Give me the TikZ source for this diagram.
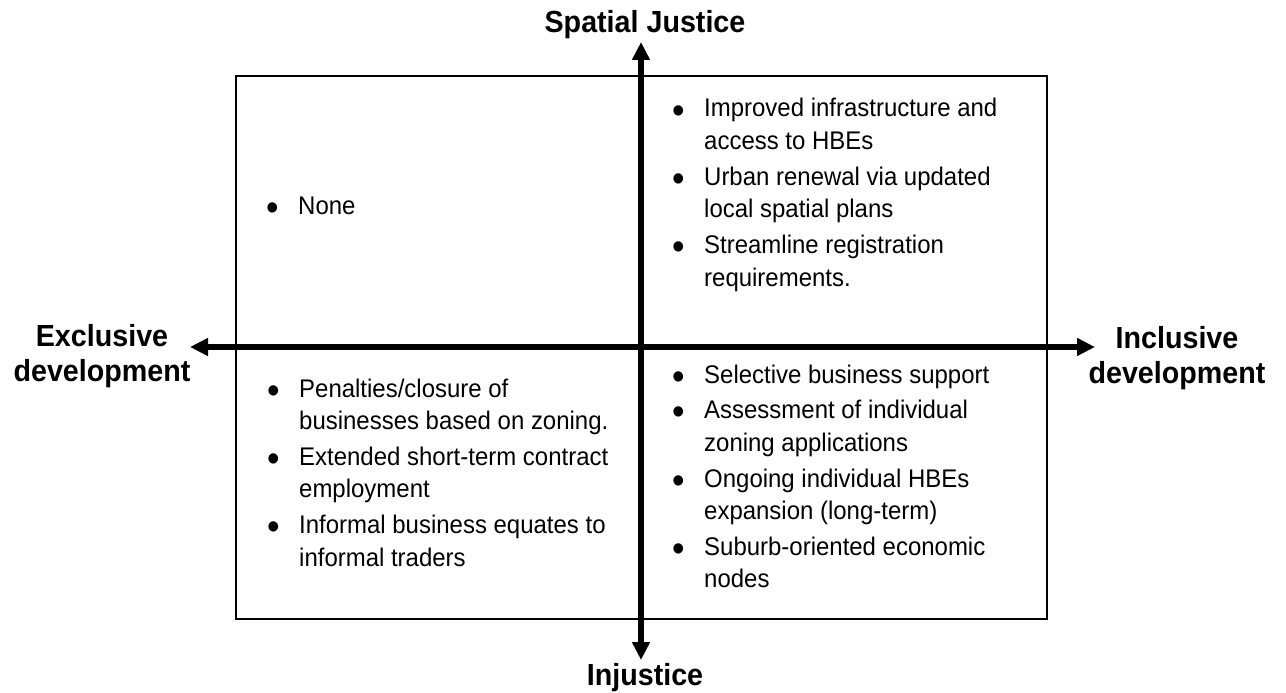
\documentclass[tikz,border=0pt]{standalone}
\usepackage{fontspec}
\setmainfont{Liberation Sans}[FakeStretch=0.94]
\usetikzlibrary{arrows.meta}

\newcommand{\qb}{\makebox[32pt][l]{\raisebox{-6pt}{\fontsize{38}{38}\selectfont\textbullet}}}

\begin{document}
\begin{tikzpicture}[x=1pt, y=-1pt, >={Triangle[width=17pt,length=18pt]},
        box/.style={draw, line width=2.8pt},
        axis/.style={line width=6.5pt, <->},
        lbl/.style={font=\fontsize{30.5}{34.5}\selectfont\bfseries, inner sep=0pt, align=center},
        txt/.style={font=\fontsize{25.5}{32.5}\selectfont, inner sep=0pt, anchor=base west}]
        \useasboundingbox (0,0) rectangle (1286,693);
        \draw[box] (236,76) rectangle (1047,619);

        \coordinate (top) at (641,42);
        \coordinate (bottom) at (641,660);
        \coordinate (left) at (190,347);
        \coordinate (right) at (1095,347);
        \draw[axis] (top) -- (bottom);
        \draw[axis] (left) -- (right);

        \node[lbl, anchor=base] (sj) at (645,33) {Spatial Justice};
        \node[lbl, anchor=base] (inj) at (645,685) {Injustice};
        \node[lbl, anchor=base] (excl) at (102,381) {Exclusive\\development};
        \node[lbl, anchor=base] (incl) at (1177,383) {Inclusive\\development};

        \node[txt] (tl) at (266,214) {\begin{tabular}[t]{@{}l@{}l@{}}
            \qb & None
        \end{tabular}};
        \node[txt] (tr) at (672,117) {\begin{tabular}[t]{@{}l@{}l@{}}
            \qb & Improved infrastructure and\\
                & access to HBEs\\[3.3pt]
            \qb & Urban renewal via updated\\
                & local spatial plans\\[3.3pt]
            \qb & Streamline registration\\
                & requirements.
        \end{tabular}};
        \node[txt] (bl) at (267,397) {\begin{tabular}[t]{@{}l@{}l@{}}
            \qb & Penalties/closure of\\
                & businesses based on zoning.\\[3.3pt]
            \qb & Extended short-term contract\\
                & employment\\[3.3pt]
            \qb & Informal business equates to\\
                & informal traders
        \end{tabular}};
        \node[txt] (br) at (672,383) {\begin{tabular}[t]{@{}l@{}l@{}}
            \qb & Selective business support\\[3.3pt]
            \qb & Assessment of individual\\
                & zoning applications\\[3.3pt]
            \qb & Ongoing individual HBEs\\
                & expansion (long-term)\\[3.3pt]
            \qb & Suburb-oriented economic\\
                & nodes
        \end{tabular}};
    \end{tikzpicture}
\end{document}
